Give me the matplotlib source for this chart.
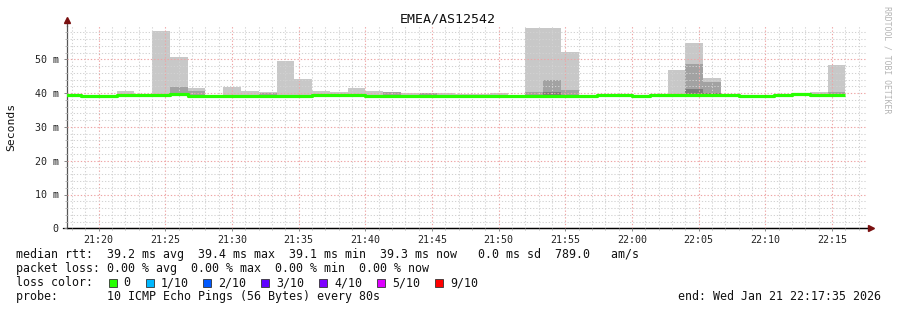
import numpy as np
import matplotlib
matplotlib.use("Agg")
import matplotlib.pyplot as plt
from matplotlib.patches import Rectangle

# ---------------- data ----------------
title = "EMEA/AS12542"
first_bin_start_min = 17 + 20 / 60      # 21:17:20, minutes after 21:00
step_min = 80 / 60                      # 80 s bins
view_start_min = 17 + 35 / 60           # 21:17:35
view_end_min = 77 + 35 / 60             # 22:17:35

rtt_max = [39.6, 39.3, 39.4, 40.7, 39.6, 58.4, 50.6, 41.5, 39.4, 41.9,
           40.6, 40.2, 49.6, 44.3, 40.6, 40.4, 41.5, 40.6, 40.4, 39.9,
           40.0, 40.0, 39.8, 39.6, 40.0, 39.5, 59.3, 59.3, 52.2, 39.4,
           39.6, 39.6, 39.4, 39.6, 46.9, 54.8, 44.5, 39.6, 39.4, 39.4,
           39.6, 40.0, 40.3, 48.2]
rtt_mid = [None, None, None, None, None, None, 41.9, 40.7, None, None,
           None, 40.1, None, None, None, None, None, None, 40.3, None,
           39.9, None, None, None, None, None, 40.2, 43.9, 41.0, None,
           None, None, None, None, None, 48.6, 43.3, None, None, None,
           None, 40.0, None, 40.3]
rtt_dark = [None] * 27 + [40.2] + [None] * 7 + [41.3, 40.0] + [None] * 7
rtt_min = [39.2, 39.0, 39.0, 39.2, 39.1, 39.1, 39.4, 38.8, 39.0, 39.0,
           39.0, 39.0, 39.0, 39.0, 39.3, 39.2, 39.2, 39.0, 39.0, 39.0,
           39.0, 39.0, 39.0, 39.0, 39.0, 39.0, 39.0, 39.0, 39.0, 39.0,
           39.3, 39.3, 39.0, 39.3, 39.3, 39.3, 39.3, 39.3, 39.0, 39.0,
           39.2, 39.4, 39.2, 39.2]
rtt_median = [39.4, 39.2, 39.2, 39.5, 39.3, 39.3, 39.6, 39.0, 39.2, 39.2,
              39.2, 39.2, 39.2, 39.2, 39.5, 39.4, 39.4, 39.2, 39.2, 39.2,
              39.2, 39.2, 39.2, 39.2, 39.2, 39.2, 39.2, 39.2, 39.2, 39.2,
              39.5, 39.5, 39.2, 39.5, 39.5, 39.5, 39.5, 39.5, 39.2, 39.2,
              39.4, 39.6, 39.4, 39.4]

xtick_minutes = [20, 25, 30, 35, 40, 45, 50, 55, 60, 65, 70, 75]
xtick_labels = ["21:20", "21:25", "21:30", "21:35", "21:40", "21:45",
                "21:50", "21:55", "22:00", "22:05", "22:10", "22:15"]
ytick_values = [0, 10, 20, 30, 40, 50]
ytick_labels = ["0", "10 m", "20 m", "30 m", "40 m", "50 m"]

legend_line1 = "median rtt:  39.2 ms avg  39.4 ms max  39.1 ms min  39.3 ms now   0.0 ms sd  789.0   am/s"
legend_line2 = "packet loss: 0.00 % avg  0.00 % max  0.00 % min  0.00 % now"
loss_labels = ["0", "1/10", "2/10", "3/10", "4/10", "5/10", "9/10"]
loss_colors = ["#26ff00", "#00b8ff", "#0059ff", "#5e00ff", "#7e00ff", "#dd00ff", "#ff0000"]
probe_text = "probe:       10 ICMP Echo Pings (56 Bytes) every 80s"
end_text = "end: Wed Jan 21 22:17:35 2026"
watermark = "RRDTOOL / TOBI OETIKER"

# ---------------- figure ----------------
W, H = 897, 310
MONO = "DejaVu Sans Mono"
fig = plt.figure(figsize=(W / 100, H / 100), dpi=100)
fig.patch.set_facecolor("white")
ax = fig.add_axes([66.5 / W, (H - 228.3) / H, 800 / W, 202.8 / H])
ax.set_facecolor("white")

n = len(rtt_max)
x = first_bin_start_min + step_min * np.arange(n)

def arr(v):
    return np.array([np.nan if a is None else a for a in v], dtype=float)

mx, md, dk, mn, med = map(arr, (rtt_max, rtt_mid, rtt_dark, rtt_min, rtt_median))

ax.bar(x, mx - mn, bottom=mn, width=step_min, align="edge",
       color="#c8c8c8", linewidth=0, zorder=1)
ax.bar(x, md - mn, bottom=mn, width=step_min, align="edge",
       color="#a2a2a2", linewidth=0, zorder=1.1)
ax.bar(x, dk - mn, bottom=mn, width=step_min, align="edge",
       color="#7c7c7c", linewidth=0, zorder=1.2)

# median line (step)
xs = np.append(x, x[-1] + step_min)
ys = np.append(med, med[-1])
ax.step(xs, ys, where="post", color="#26ff00", linewidth=2.3,
        solid_capstyle="butt", zorder=3)

ax.set_xlim(view_start_min, view_end_min)
ax.set_ylim(0, 60)

ax.set_xticks(xtick_minutes)
ax.set_xticklabels(xtick_labels, fontfamily=MONO, fontsize=7.2)
ax.set_xticks(np.arange(18, 78, 1), minor=True)
ax.set_yticks(ytick_values)
ax.set_yticklabels(ytick_labels, fontfamily=MONO, fontsize=7.2)
ax.set_yticks(np.arange(0, 60, 2), minor=True)

ax.grid(which="minor", color="#d2d2d2", linestyle=(0, (1.2, 1.8)), linewidth=0.75)
ax.grid(which="major", color="#eea4a4", linestyle=(0, (1.2, 1.8)), linewidth=0.8)
ax.set_axisbelow(False)

ax.tick_params(axis="both", which="major", length=2.5, width=0.7, color="#888888",
               labelcolor="#222222")
ax.tick_params(axis="both", which="minor", length=1.5, width=0.6, color="#aaaaaa")
ax.tick_params(axis="x", which="major", pad=2)
ax.tick_params(axis="y", which="major", pad=3)

for s in ("top", "right"):
    ax.spines[s].set_visible(False)
ax.spines["left"].set_color("#555555")
ax.spines["left"].set_linewidth(0.9)
ax.spines["bottom"].set_color("#000000")
ax.spines["bottom"].set_linewidth(0.9)

# axis arrows
ax.plot([view_start_min], [61.5], marker="^", markersize=4.5, color="#7a1010",
        clip_on=False, zorder=5)
ax.plot([view_start_min, view_start_min], [60, 61.5], color="#555555", lw=0.9,
        clip_on=False)
ax.plot([view_start_min - 0.3, view_end_min + 0.25], [0, 0], color="#000000", lw=0.9,
        clip_on=False)
ax.plot([view_end_min + 0.3], [0], marker=">", markersize=4.5, color="#7a1010",
        clip_on=False, zorder=5)

# title and labels
fig.text(448 / W, 1 - 19.5 / H, title, ha="center", va="center",
         fontfamily=MONO, fontsize=9.5, color="#111111")
fig.text(11 / W, 1 - 127 / H, "Seconds", ha="center", va="center",
         rotation=90, fontfamily=MONO, fontsize=8.2, color="#111111")
fig.text(887 / W, 1 - 60 / H, watermark, ha="center", va="center",
         rotation=270, fontfamily=MONO, fontsize=5.9, color="#b4b4b4")

# legend lines
fs = 8.4
def ftxt(px, py, s, **kw):
    fig.text(px / W, 1 - py / H, s, ha="left", va="center",
             fontfamily=MONO, fontsize=fs, color="#111111", **kw)

ftxt(16, 254.7, legend_line1)
ftxt(16, 268.4, legend_line2)
ftxt(16, 282.6, "loss color:")
sq_x = [108.7, 145.7, 203, 261, 319, 377, 435]
for sx, lab, col in zip(sq_x, loss_labels, loss_colors):
    fig.patches.append(Rectangle(((sx) / W, 1 - 286.5 / H), 8 / W, 8 / H,
                                 transform=fig.transFigure, facecolor=col,
                                 edgecolor="#333333", linewidth=0.6))
    ftxt(sx + 15, 282.6, lab)
ftxt(16, 296.6, probe_text)
ftxt(678, 296.6, end_text)

fig.savefig("out.png", dpi=100, facecolor="white")
